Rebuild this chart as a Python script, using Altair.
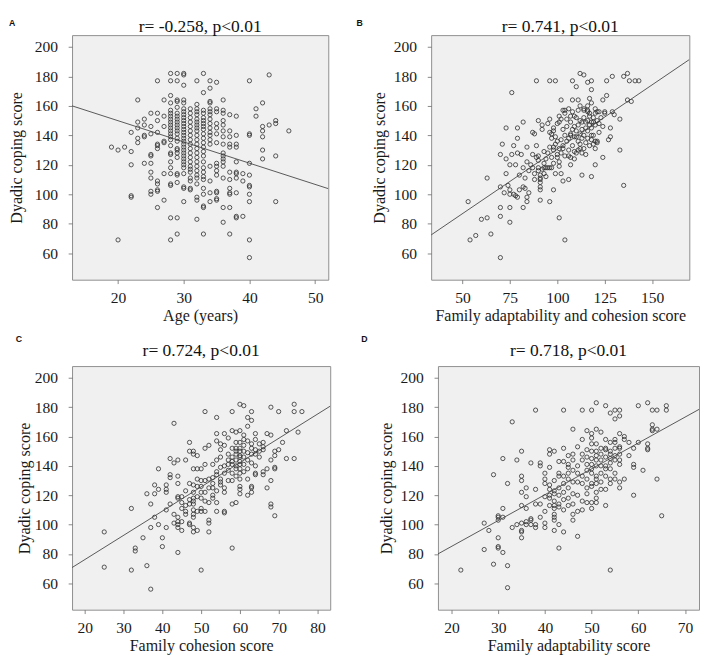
import altair as alt
import pandas as pd

# ---------------- data ----------------
# Panel A: age (years) -> dyadic coping scores at that age
A_cols = {
    19: [132], 20: [130, 69], 21: [132], 22: [142, 129, 120, 99, 98],
    23: [164, 149, 145, 138, 135], 24: [151, 147, 140, 139, 121],
    25: [155, 146, 141, 127, 126, 121, 115, 111, 102, 100],
    26: [177, 155, 150, 142, 134, 133, 131, 109, 107, 103, 102, 91],
    27: [164, 153, 146, 136, 135, 114, 96],
    28: [182, 177, 167, 162, 157, 155, 153, 151, 149, 147, 145, 143, 141, 139, 137, 133, 128, 127, 122, 118, 114, 107, 106, 84, 69],
    29: [182, 177, 164, 163, 159, 155, 153, 151, 149, 147, 145, 143, 141, 138, 136, 131, 130, 128, 125, 114, 113, 108, 84, 73],
    30: [182, 181, 174, 164, 162, 158, 156, 154, 152, 150, 148, 146, 144, 142, 140, 138, 136, 134, 132, 130, 128, 126, 124, 122, 120, 118, 114, 105, 104, 95],
    31: [158, 155, 152, 149, 146, 143, 140, 137, 134, 131, 128, 125, 122, 119, 117, 115, 111, 109, 104, 103],
    32: [177, 161, 158, 156, 154, 151, 149, 147, 145, 143, 140, 137, 134, 131, 128, 125, 122, 119, 116, 113, 111, 107, 98, 96, 83],
    33: [182, 169, 157, 155, 152, 150, 148, 146, 144, 141, 138, 135, 132, 129, 126, 122, 118, 115, 112, 110, 104, 100, 92, 91, 73],
    34: [177, 172, 163, 162, 158, 156, 154, 151, 148, 145, 142, 140, 137, 134, 119, 109, 101, 95],
    35: [176, 158, 156, 148, 145, 141, 135, 121, 119, 116, 113, 102, 101, 97, 96],
    36: [164, 157, 155, 150, 147, 143, 139, 134, 128, 126, 124, 122, 119, 111, 91, 81],
    37: [154, 143, 139, 134, 132, 115, 110, 104, 101, 100, 91, 73],
    38: [153, 140, 134, 132, 122, 115, 114, 111, 101, 85, 84],
    39: [114, 109, 85],
    40: [177, 141, 140, 121, 113, 106, 105, 100, 95, 69, 57],
    41: [158, 153], 42: [162, 146, 143, 139, 130, 124], 43: [181, 147],
    44: [150, 148, 126, 95], 46: [143],
}

# Panel B: (family adaptability and cohesion score, dyadic coping score)
pts_B = [
    (53, 95), (54, 69), (57, 72), (60, 83), (63, 84), (63, 111), (65, 73), (70, 57), (70, 105), (70, 91),
    (70, 85), (70, 127), (71, 134), (72, 101), (73, 124), (73, 114), (73, 145), (74, 106), (75, 100), (75, 103),
    (75, 91), (75, 81), (75, 120), (76, 127), (76, 169), (77, 100), (77, 133), (78, 120), (78, 99), (79, 145),
    (79, 138), (79, 98), (79, 128), (80, 103), (80, 113), (81, 127), (82, 118), (82, 91), (82, 149), (82, 105),
    (83, 111), (83, 104), (84, 95), (84, 122), (84, 132), (84, 98), (85, 116), (85, 101), (86, 120), (87, 142),
    (87, 127), (88, 114), (88, 141), (89, 133), (89, 177), (96, 177), (99, 177), (90, 150), (90, 126), (90, 123),
    (90, 118), (91, 113), (91, 111), (91, 108), (91, 105), (91, 103), (91, 96), (92, 147), (92, 144), (93, 129),
    (93, 118), (94, 118), (95, 118), (96, 118), (97, 118), (93, 114), (94, 112), (95, 148), (96, 142), (96, 151),
    (96, 95), (97, 141), (97, 138), (98, 132), (98, 130), (98, 143), (98, 103), (99, 114), (99, 134), (100, 127),
    (101, 122), (101, 149), (101, 153), (101, 84), (102, 164), (102, 114), (103, 109), (103, 131), (103, 157), (104, 157),
    (104, 69), (105, 146), (105, 136), (106, 126), (106, 110), (107, 153), (107, 140), (107, 149), (107, 120), (108, 177),
    (108, 164), (109, 129), (109, 153), (109, 139), (110, 173), (111, 157), (111, 164), (112, 182), (112, 131), (113, 144),
    (113, 113), (113, 149), (114, 181), (114, 157), (115, 145), (115, 127), (116, 156), (116, 176), (116, 157), (117, 165),
    (117, 153), (118, 140), (118, 177), (118, 171), (118, 112), (119, 149), (120, 131), (120, 120), (121, 156), (121, 135),
    (124, 164), (124, 125), (125, 156), (126, 167), (126, 177), (127, 137), (128, 145), (128, 139), (129, 180), (129, 156),
    (130, 154), (133, 151), (133, 130), (135, 106), (135, 180), (137, 182), (137, 164), (138, 177), (139, 163), (141, 177),
    (143, 177),
    (106, 138), (107, 141), (108, 144), (109, 146), (110, 143), (110, 139), (111, 136), (111, 147), (112, 150), (112, 141),
    (113, 138), (114, 140), (114, 152), (115, 149), (116, 150), (116, 143), (117, 147), (117, 155), (118, 149), (118, 145),
    (119, 152), (119, 140), (120, 147), (120, 155), (121, 150), (121, 136), (122, 148), (122, 142), (123, 152), (124, 146),
    (125, 155), (105, 151), (104, 140), (103, 144), (102, 137), (101, 131), (100, 136), (99, 139), (98, 145), (97, 125),
    (96, 132), (95, 128), (94, 124), (93, 121), (92, 117), (91, 110), (90, 116), (89, 125), (88, 110), (87, 118),
    (100, 125), (101, 119), (102, 128), (103, 133), (104, 126), (106, 130), (107, 125), (108, 133), (109, 124), (110, 128),
    (111, 130), (112, 134), (113, 128), (114, 131), (115, 135), (116, 138), (117, 133), (118, 137), (119, 134), (120, 136),
    (98, 121), (100, 148), (102, 151), (104, 155), (106, 158), (108, 156), (110, 152), (112, 160), (114, 158), (116, 160),
    (118, 162), (120, 158), (122, 156),
]

# Panel C: (family cohesion score, dyadic coping score)
pts_C = [
    (25, 95), (25, 71), (32, 111), (32, 69), (33, 84), (33, 82), (35, 91), (36, 72), (36, 121), (37, 56),
    (37, 114), (37, 98), (38, 127), (38, 121), (38, 105), (39, 138), (39, 124), (39, 100), (40, 91), (40, 85),
    (41, 127), (41, 124), (41, 122), (41, 98), (41, 110), (42, 114), (42, 145), (42, 134), (42, 132), (43, 169),
    (43, 142), (43, 107), (43, 101), (44, 98), (44, 144), (44, 133), (44, 128), (44, 119), (44, 118), (44, 81),
    (44, 105), (44, 102), (44, 100), (45, 111), (45, 102), (45, 96), (45, 115), (46, 109), (46, 107), (46, 144),
    (46, 123), (47, 114), (47, 150), (47, 128), (47, 101), (47, 156), (47, 100), (48, 138), (48, 150), (48, 148),
    (48, 127), (48, 122), (48, 118), (48, 116), (48, 114), (48, 110), (48, 107), (48, 105), (48, 95), (48, 98),
    (49, 138), (49, 147), (49, 131), (49, 109), (49, 96), (49, 126), (50, 122), (50, 138), (50, 130), (50, 118),
    (50, 111), (50, 109), (50, 69), (51, 130), (51, 152), (51, 109), (51, 177), (51, 116), (51, 141), (52, 125),
    (52, 154), (52, 115), (52, 103), (52, 101), (52, 95), (53, 120), (53, 132), (53, 141), (53, 125), (53, 118),
    (54, 136), (54, 162), (54, 157), (54, 173), (54, 109), (54, 115), (54, 123), (54, 144), (55, 151), (55, 139),
    (55, 131), (55, 129), (55, 155), (55, 146), (56, 162), (56, 109), (56, 108), (56, 154), (56, 125), (56, 135),
    (56, 122), (57, 159), (57, 144), (57, 141), (57, 148), (58, 177), (58, 164), (58, 152), (58, 146), (58, 141),
    (58, 135), (58, 114), (58, 84), (59, 163), (59, 156), (59, 152), (59, 115), (59, 148), (59, 138), (59, 144),
    (59, 140), (60, 182), (60, 164), (60, 131), (60, 126), (60, 124), (60, 121), (60, 156), (60, 152), (60, 150),
    (60, 146), (60, 141), (60, 138), (60, 147), (61, 158), (61, 181), (61, 154), (61, 141), (61, 161), (62, 149),
    (62, 120), (62, 131), (62, 173), (62, 167), (62, 157), (63, 177), (63, 171), (63, 152), (63, 148), (63, 126),
    (63, 125), (63, 122), (64, 162), (64, 158), (64, 135), (64, 134), (64, 151), (64, 148), (65, 155), (65, 146),
    (66, 156), (66, 153), (66, 151), (66, 136), (66, 134), (67, 162), (67, 125), (67, 138), (68, 180), (68, 161),
    (68, 144), (68, 130), (68, 114), (68, 112), (69, 147), (69, 139), (69, 138), (69, 106), (69, 150), (70, 177),
    (70, 151), (71, 156), (72, 164), (72, 145), (74, 182), (74, 177), (74, 145), (75, 163), (76, 177),
    (56, 140), (57, 137), (58, 143), (59, 150), (60, 143), (61, 146), (62, 144), (63, 142), (61, 136), (59, 133),
    (57, 130), (55, 127), (53, 128), (51, 122), (49, 119), (47, 117), (45, 119), (46, 113), (50, 126), (52, 131),
    (54, 134), (58, 130), (60, 135), (62, 138), (64, 140), (65, 150), (61, 150), (63, 155),
]

# Panel D: (family adaptability score, dyadic coping score)
pts_D = [
    (22, 69), (27, 101), (27, 83), (28, 96), (29, 134), (29, 73), (30, 106), (30, 105), (30, 103), (30, 91),
    (30, 85), (30, 84), (31, 111), (31, 105), (31, 145), (31, 81), (32, 128), (32, 72), (32, 57), (33, 170),
    (33, 98), (34, 144), (34, 100), (35, 130), (35, 133), (35, 150), (35, 113), (35, 101), (35, 96), (35, 95),
    (35, 91), (35, 122), (36, 111), (36, 125), (36, 119), (36, 102), (36, 100), (37, 103), (37, 142), (37, 104),
    (37, 100), (38, 178), (38, 124), (38, 114), (38, 98), (38, 100), (39, 142), (39, 140), (39, 114), (39, 105),
    (40, 135), (40, 131), (40, 128), (40, 119), (40, 109), (40, 101), (40, 98), (41, 139), (41, 127), (41, 118),
    (41, 113), (41, 151), (41, 148), (41, 124), (42, 150), (42, 123), (42, 113), (42, 111), (42, 107), (42, 105),
    (42, 103), (42, 96), (42, 121), (43, 135), (43, 133), (43, 120), (43, 114), (43, 100), (43, 84), (43, 143),
    (44, 178), (44, 152), (44, 143), (44, 133), (44, 95), (44, 110), (44, 122), (45, 131), (45, 139), (45, 147),
    (45, 141), (45, 118), (45, 113), (46, 165), (46, 148), (46, 107), (46, 103), (46, 129), (46, 144), (46, 114),
    (47, 109), (47, 153), (47, 135), (47, 92), (47, 120), (48, 144), (48, 178), (48, 158), (48, 128), (48, 116),
    (48, 110), (49, 141), (49, 164), (49, 151), (49, 115), (49, 131), (49, 121), (50, 162), (50, 155), (50, 135),
    (50, 111), (50, 178), (50, 159), (50, 141), (50, 126), (50, 115), (51, 165), (51, 183), (51, 155), (51, 147),
    (51, 131), (51, 128), (51, 122), (51, 118), (51, 115), (52, 163), (52, 144), (52, 129), (52, 124), (53, 181),
    (53, 158), (53, 152), (53, 138), (53, 113), (53, 124), (54, 176), (54, 156), (54, 142), (54, 131), (54, 69),
    (54, 148), (55, 178), (55, 172), (55, 156), (55, 144), (55, 135), (55, 131), (56, 178), (56, 174), (56, 162),
    (56, 152), (56, 144), (56, 129), (56, 125), (57, 160), (57, 131), (57, 158), (58, 156), (58, 147), (59, 141),
    (59, 139), (59, 152), (59, 120), (60, 181), (60, 156), (61, 137), (62, 155), (62, 152), (62, 151), (62, 183),
    (63, 178), (63, 168), (63, 165), (63, 164), (64, 178), (64, 165), (64, 131), (65, 106), (66, 181), (66, 178),
    (50, 145), (50, 150), (51, 140), (51, 144), (52, 148), (52, 152), (53, 140), (53, 146), (54, 150), (54, 138),
    (55, 147), (55, 152), (56, 141), (56, 148), (49, 146), (49, 137), (48, 133), (48, 148), (47, 140), (46, 137),
    (45, 135), (44, 128), (43, 125), (42, 130), (53, 133), (54, 128), (52, 135), (50, 128), (49, 125), (51, 133),
    (50, 138), (55, 158), (53, 151), (54, 145), (52, 140), (51, 150), (56, 153), (47, 129), (46, 121), (45, 125),
    (44, 117), (43, 112), (42, 116), (41, 120),
]

# fitted regression lines: (x at left edge, x at right edge, y at left, y at right)
fit_A = (13, 52, 160, 103.8)
fit_B = (33.5, 169.6, 72.4, 191.4)
fit_C = (16.7, 83.3, 70.7, 180.7)
fit_D = (17.1, 73.0, 80.0, 178.5)

titles = ["r= -0.258, p<0.01", "r= 0.741, p<0.01", "r= 0.724, p<0.01", "r= 0.718, p<0.01"]
letters = ["A", "B", "C", "D"]
x_titles = ["Age (years)", "Family adaptability and cohesion score",
            "Family cohesion score", "Family adaptability score"]
y_title = "Dyadic coping score"
x_domains = [[13, 52], [33.5, 169.6], [16.7, 83.3], [17.1, 73.0]]
x_ticks = [[20, 30, 40, 50], [50, 75, 100, 125, 150],
           [20, 30, 40, 50, 60, 70, 80], [20, 30, 40, 50, 60, 70]]
y_domain = [42, 208]
y_ticks = [60, 80, 100, 120, 140, 160, 180, 200]

# ---------------- build ----------------
age_A = [k for k, v in A_cols.items() for _ in v]
dc_A = [y for v in A_cols.values() for y in v]
frames = [
    pd.DataFrame({"x": age_A, "y": dc_A}),
    pd.DataFrame(pts_B, columns=["x", "y"]),
    pd.DataFrame(pts_C, columns=["x", "y"]),
    pd.DataFrame(pts_D, columns=["x", "y"]),
]
fits = [fit_A, fit_B, fit_C, fit_D]

SERIF = "Liberation Serif"
sizes = [(264, 252), (266, 252), (266, 251), (269, 251)]
letter_dx = [-65, -77, -58, -79]
letter_dy = [-12, -12, -28, -28]
y_title_pad = [10, 6, 2, 6]


def panel(i):
    w, h = sizes[i]
    df = frames[i]
    xa = alt.X("x:Q", title=x_titles[i],
               scale=alt.Scale(domain=x_domains[i], nice=False, zero=False),
               axis=alt.Axis(values=x_ticks[i], labelPadding=6, titlePadding=3,
                             labelOverlap=False))
    ya = alt.Y("y:Q", title=y_title,
               scale=alt.Scale(domain=y_domain, nice=False, zero=False),
               axis=alt.Axis(values=y_ticks, labelPadding=11, titlePadding=y_title_pad[i],
                             labelOverlap=False, labelSeparation=0))
    pts = alt.Chart(df).mark_point(shape="circle", filled=False, size=19,
                                   stroke="#2a2a2a", strokeWidth=0.8, opacity=1,
                                   clip=True).encode(x=xa, y=ya)
    f = fits[i]
    ldf = pd.DataFrame({"x": [f[0], f[1]], "y": [f[2], f[3]]})
    line = alt.Chart(ldf).mark_line(color="#444444", strokeWidth=0.9, clip=True).encode(
        x=xa, y=ya)
    if i < 2:
        ttl = alt.Chart(pd.DataFrame({"t": [titles[i]]})).mark_text(
            font=SERIF, fontSize=18, color="#111111", align="center", baseline="top"
        ).encode(text="t:N", x=alt.value(w / 2), y=alt.value(-17))
    else:
        ttl = alt.Chart(pd.DataFrame({"t": [titles[i]]})).mark_text(
            font=SERIF, fontSize=18, color="#111111", align="center", baseline="alphabetic"
        ).encode(text="t:N", x=alt.value(w / 2), y=alt.value(-10))
    let = alt.Chart(pd.DataFrame({"t": [letters[i]]})).mark_text(
        font="Liberation Sans", fontSize=9, fontWeight="bold", color="#111111",
        align="left", baseline="middle"
    ).encode(text="t:N", x=alt.value(letter_dx[i]), y=alt.value(letter_dy[i]))
    return alt.layer(pts, line, ttl, let).properties(width=w, height=h)


row1 = alt.hconcat(panel(0), panel(1), spacing=27)
row2 = alt.hconcat(panel(2), panel(3), spacing=30)
chart = alt.vconcat(row1, row2, spacing=10).properties(padding=0).configure_view(
    fill="#F0F0F0", stroke="#8c8c8c", strokeWidth=1
).configure_axis(
    grid=False, domain=False, tickSize=4, tickColor="#666666", tickWidth=0.8,
    labelFont=SERIF, labelFontSize=16, labelColor="#1a1a1a", labelOverlap=False,
    titleFont=SERIF, titleFontSize=16.5, titleFontWeight="normal", titleColor="#1a1a1a",
)

chart.save("out.html", embed_options={"renderer": "svg", "actions": False})
